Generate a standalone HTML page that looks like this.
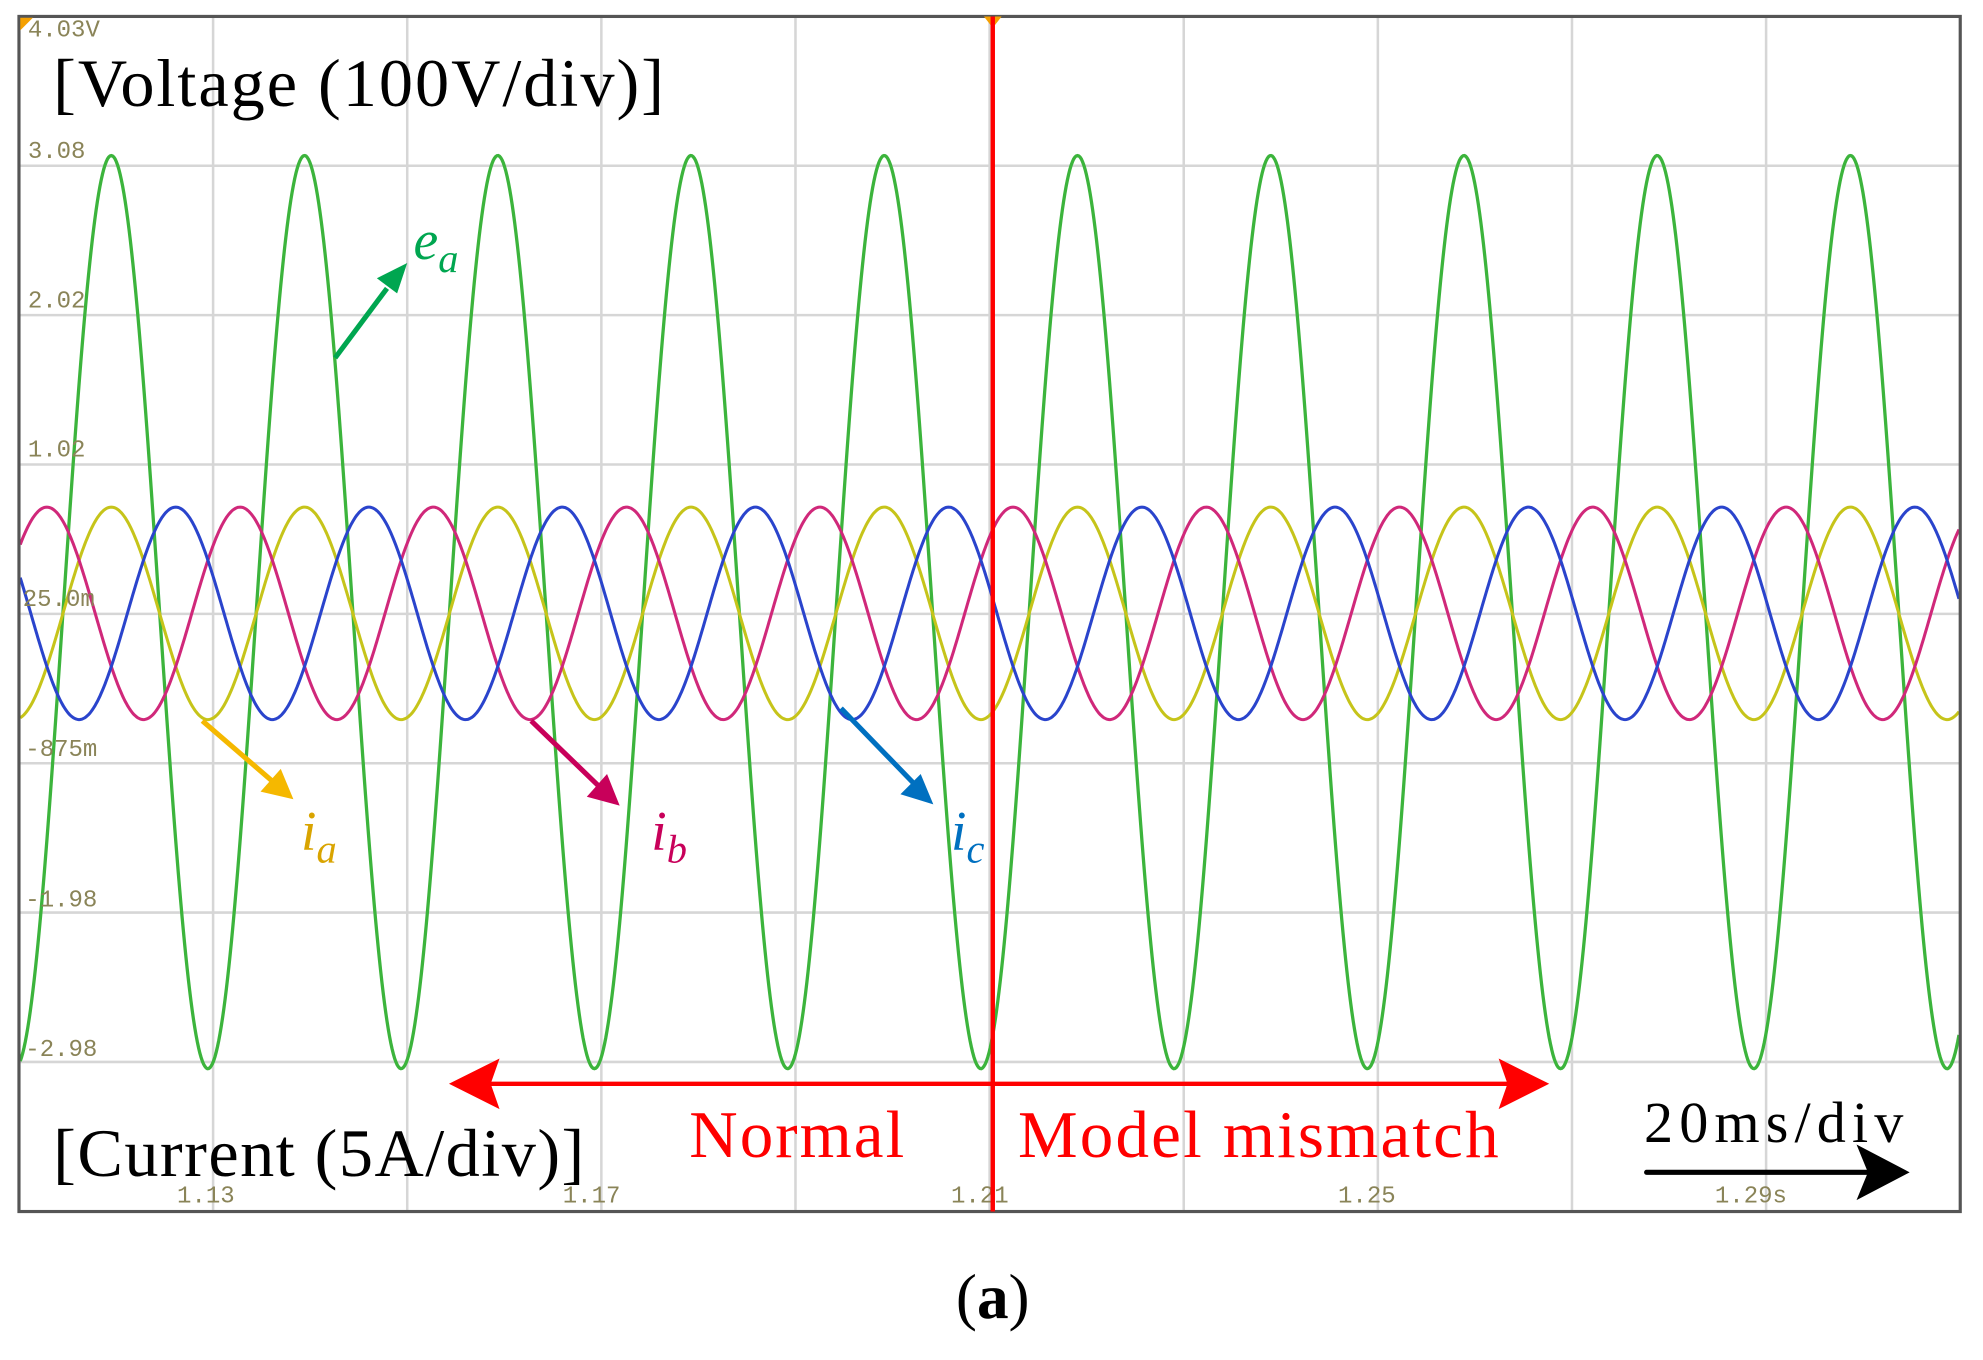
<!DOCTYPE html>
<html><head><meta charset="utf-8"><style>
html,body{margin:0;padding:0;background:#fff;}
svg{display:block;}
.t{font-family:"Liberation Mono",monospace;font-size:19px;fill:#8a8458;}
.s{font-family:"Liberation Serif",serif;}
</style></head><body>
<svg id="c" width="1983" height="1360" viewBox="0 0 1568 1075.4" preserveAspectRatio="none" xmlns="http://www.w3.org/2000/svg">
<rect x="0" y="0" width="1568" height="1076" fill="#fff"/>
<g id="grid" stroke="#d6d6d6" stroke-width="2"></g>
<g id="waves" fill="none"></g>
<rect x="15" y="13" width="1535" height="945" fill="none" stroke="#555" stroke-width="2.5"/>
<polygon points="16,14 26,14 16,24" fill="#f5a000"/>
<polygon points="778,13 792,13 785,22" fill="#f5a000"/>
<text class="t" x="22" y="29">4.03V</text>
<text class="t" x="22" y="125">3.08</text>
<text class="t" x="22" y="243">2.02</text>
<text class="t" x="22" y="361">1.02</text>
<text class="t" x="18" y="479">25.0m</text>
<text class="t" x="20" y="598">-875m</text>
<text class="t" x="20" y="717">-1.98</text>
<text class="t" x="20" y="835">-2.98</text>
<text class="t" x="140" y="951">1.13</text>
<text class="t" x="445" y="951">1.17</text>
<text class="t" x="752" y="951">1.21</text>
<text class="t" x="1058" y="951">1.25</text>
<text class="t" x="1356" y="951">1.29s</text>
<line x1="785" y1="13" x2="785" y2="958" stroke="#f00" stroke-width="3.5"/>
<line x1="380" y1="857" x2="1200" y2="857" stroke="#f00" stroke-width="3.5"/>
<polygon points="355,857 395,837 388,857 395,877" fill="#f00"/>
<polygon points="1225,857 1185,837 1192,857 1185,877" fill="#f00"/>
<text class="s" x="545" y="915" font-size="53" fill="#f00" textLength="170">Normal</text>
<text class="s" x="805" y="915" font-size="53" fill="#f00" textLength="380">Model mismatch</text>
<text class="s" x="42" y="84" font-size="54" fill="#000" textLength="483">[Voltage (100V/div)]</text>
<text class="s" x="42" y="930" font-size="54" fill="#000" textLength="420">[Current (5A/div)]</text>
<text class="s" x="1300" y="903" font-size="46" fill="#000" textLength="205">20ms/div</text>
<line x1="1302" y1="927" x2="1480" y2="927" stroke="#000" stroke-width="4" stroke-linecap="round"/>
<polygon points="1510,927 1468,905 1477,927 1468,949" fill="#000"/>
<text class="s" x="785" y="1042" font-size="50" fill="#000" text-anchor="middle">(<tspan font-weight="bold">a</tspan>)</text>
<line x1="265" y1="283" x2="306" y2="228" stroke="#00a650" stroke-width="4"/>
<polygon points="322,208 298,220 314,232" fill="#00a650"/>
<text class="s" x="327" y="205" font-size="44" font-style="italic" fill="#00a650">e<tspan font-size="32" dy="10">a</tspan></text>
<line x1="160" y1="570" x2="218" y2="620" stroke="#f5b800" stroke-width="4"/>
<polygon points="232,632 206,626 222,608" fill="#f5b800"/>
<text class="s" x="238" y="672" font-size="44" font-style="italic" fill="#d9a400">i<tspan font-size="32" dy="10">a</tspan></text>
<line x1="420" y1="570" x2="476" y2="624" stroke="#c8005a" stroke-width="4"/>
<polygon points="490,637 464,630 480,612" fill="#c8005a"/>
<text class="s" x="515" y="672" font-size="44" font-style="italic" fill="#c8005a">i<tspan font-size="32" dy="10">b</tspan></text>
<line x1="665" y1="560" x2="725" y2="622" stroke="#0070c0" stroke-width="4"/>
<polygon points="738,636 712,628 728,612" fill="#0070c0"/>
<text class="s" x="752" y="672" font-size="44" font-style="italic" fill="#0070c0">i<tspan font-size="32" dy="10">c</tspan></text>
</svg>
<script>
(function(){
var ns="http://www.w3.org/2000/svg";
var g=document.getElementById("grid");
function ln(p,x1,y1,x2,y2){var l=document.createElementNS(ns,"line");l.setAttribute("x1",x1);l.setAttribute("y1",y1);l.setAttribute("x2",x2);l.setAttribute("y2",y2);p.appendChild(l);return l;}
for(var k=1;k<8;k++){var y=13+118.1*k;ln(g,15,y,1550,y);}
for(var k=1;k<10;k++){var x=15+153.5*k;ln(g,x,13,x,958);}
var w=document.getElementById("waves");
var P=152.8, x0=88;
function wave(cx,amp,ph,col,sw){
  var d="";
  for(var x=16;x<=1549;x+=1){
    var y=cx-amp*Math.cos(2*Math.PI*(x-x0)/P+ph);
    d+=(x==16?"M":"L")+x+" "+y.toFixed(1);
  }
  var p=document.createElementNS(ns,"path");p.setAttribute("d",d);p.setAttribute("stroke",col);p.setAttribute("stroke-width",sw);w.appendChild(p);
}
wave(484,361,0,"#3cb43c",2.6);
wave(485,84,0,"#c6c41a",2.4);
wave(485,84,2*Math.PI/3,"#d0287a",2.4);
wave(485,84,4*Math.PI/3,"#2a44cc",2.4);
})();
</script>
</body></html>
